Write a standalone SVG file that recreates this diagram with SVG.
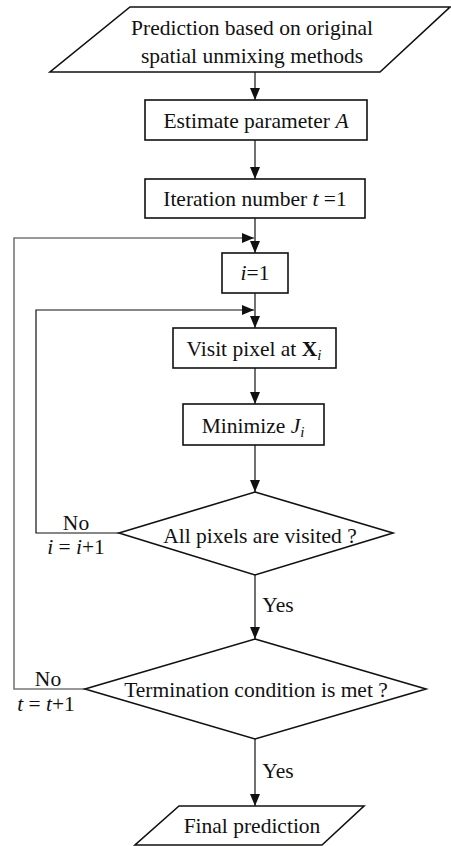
<svg xmlns="http://www.w3.org/2000/svg" width="451" height="846" viewBox="0 0 451 846">
<style>
text{font-size:21.5px;fill:#111;text-anchor:middle}
.shape{fill:#fff;stroke:#111;stroke-width:1.6}
.c{fill:none;stroke:#111;stroke-width:1.2}
.g{fill:none;stroke:#777;stroke-width:1.6}
.it{font-style:italic}
</style>
<defs>
<marker id="ah" viewBox="0 0 12 10" refX="12" refY="5" markerWidth="12" markerHeight="10" markerUnits="userSpaceOnUse" orient="auto">
<path d="M0,0 L12,5 L0,10 z" fill="#111"/>
</marker>
</defs>
<rect width="451" height="846" fill="#fff"/>
<g font-family="Liberation Serif">
<g id="connectors">
<line class="c" x1="255" y1="72" x2="255" y2="100" marker-end="url(#ah)"/>
<line class="c" x1="255" y1="140" x2="255" y2="179" marker-end="url(#ah)"/>
<line class="c" x1="255" y1="218" x2="255" y2="253" marker-end="url(#ah)"/>
<polyline class="g" points="85,689 14,689 14,238 254,238" marker-end="url(#ah)"/>
<line class="c" x1="255" y1="293" x2="255" y2="328" marker-end="url(#ah)"/>
<polyline class="c" points="119,533 36,533 36,310 254,310" marker-end="url(#ah)"/>
<line class="c" x1="255" y1="368" x2="255" y2="404" marker-end="url(#ah)"/>
<line class="c" x1="255" y1="445" x2="255" y2="492" marker-end="url(#ah)"/>
<line class="c" x1="255" y1="575" x2="255" y2="639" marker-end="url(#ah)"/>
<line class="c" x1="255" y1="739" x2="255" y2="806" marker-end="url(#ah)"/>
<text x="278" y="612">Yes</text>
<text x="278" y="778">Yes</text>
<text x="76" y="530">No</text>
<text x="76" y="554"><tspan class="it">i</tspan> = <tspan class="it">i</tspan>+1</text>
<text x="48" y="686">No</text>
<text x="46" y="711"><tspan class="it">t</tspan> = <tspan class="it">t</tspan>+1</text>
</g>
<g id="start">
<polygon class="shape" points="130,7 450,7 380,72 50,72"/>
<text x="252" y="35">Prediction based on original</text>
<text x="252" y="63">spatial unmixing methods</text>
</g>
<g id="estimate">
<rect class="shape" x="145" y="100" width="222" height="40"/>
<text x="256" y="128">Estimate parameter <tspan class="it">A</tspan></text>
</g>
<g id="iteration">
<rect class="shape" x="145" y="179" width="220" height="39"/>
<text x="255" y="206">Iteration number <tspan class="it">t</tspan> =1</text>
</g>
<g id="init-i">
<rect class="shape" x="222" y="253" width="66" height="40"/>
<text x="255" y="280"><tspan class="it">i</tspan>=1</text>
</g>
<g id="visit">
<rect class="shape" x="173" y="328" width="163" height="40"/>
<text x="254" y="356">Visit pixel at <tspan font-weight="bold">X</tspan><tspan class="it" font-size="15" dy="4">i</tspan></text>
</g>
<g id="minimize">
<rect class="shape" x="183" y="404" width="141" height="41"/>
<text x="253" y="433">Minimize <tspan class="it">J</tspan><tspan class="it" font-size="15" dy="4">i</tspan></text>
</g>
<g id="all-visited">
<polygon class="shape" points="255,492 393,533 255,575 119,533"/>
<text x="260" y="543">All pixels are visited ?</text>
</g>
<g id="termination">
<polygon class="shape" points="255,639 426,689 255,739 85,689"/>
<text x="256" y="697">Termination condition is met ?</text>
</g>
<g id="final">
<polygon class="shape" points="179,806 364,806 322,845 135,845"/>
<text x="252" y="833">Final prediction</text>
</g>
</g>
</svg>
